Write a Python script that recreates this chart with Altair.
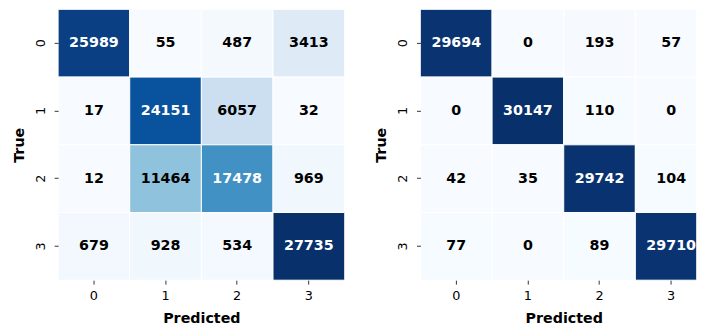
import altair as alt
import numpy as np
import pandas as pd

# Confusion matrices (rows = true class, columns = predicted class)
classes = ["0", "1", "2", "3"]
cm_left = [
    [25989, 55, 487, 3413],
    [17, 24151, 6057, 32],
    [12, 11464, 17478, 969],
    [679, 928, 534, 27735],
]
cm_right = [
    [29694, 0, 193, 57],
    [0, 30147, 110, 0],
    [42, 35, 29742, 104],
    [77, 0, 89, 29710],
]

# matplotlib "Blues" colour stops
blues = ["#f7fbff", "#deebf7", "#c6dbef", "#9ecae1", "#6baed6",
         "#4292c6", "#2171b5", "#08519c", "#08306b"]

FONT = "DejaVu Sans"


def to_frame(cm):
    rows = []
    for i, t in enumerate(classes):
        for j, p in enumerate(classes):
            rows.append({"true": t, "pred": p, "v": cm[i][j]})
    return pd.DataFrame(rows)


def panel(cm, width, x_range=None):
    df = to_frame(cm)
    vals = np.array(cm).ravel()
    stops = list(np.linspace(vals.min(), vals.max(), len(blues)))
    xscale = alt.Scale(domain=classes, paddingInner=0, paddingOuter=0)
    if x_range is not None:
        xscale = alt.Scale(domain=classes, paddingInner=0, paddingOuter=0, range=x_range)
    x = alt.X("pred:O", sort=classes, scale=xscale,
              axis=alt.Axis(title="Predicted", labelAngle=0))
    y = alt.Y("true:O", sort=classes,
              scale=alt.Scale(domain=classes, paddingInner=0, paddingOuter=0),
              axis=alt.Axis(title="True", labelAngle=-90, labelAlign="center",
                            labelBaseline="bottom"))
    base = alt.Chart(df).encode(x=x, y=y)
    rect = base.mark_rect(stroke="white", strokeWidth=1, clip=True).encode(
        color=alt.Color("v:Q", scale=alt.Scale(domain=stops, range=blues), legend=None)
    )
    text = base.transform_joinaggregate(vmax="max(v)").mark_text(
        font=FONT, fontSize=14.5, fontWeight="bold", baseline="middle", align="center"
    ).encode(
        text="v:Q",
        color=alt.condition("datum.v > 0.5 * datum.vmax", alt.value("white"), alt.value("black")),
    )
    return alt.layer(rect, text).properties(width=width, height=275)


left = panel(cm_left, 291)
right = panel(cm_right, 280, x_range=[0, 291])

chart = alt.hconcat(left, right, spacing=77, bounds="flush").resolve_scale(
    color="independent"
).properties(
    padding={"left": 12, "top": 7, "right": 0, "bottom": 0}
).configure_view(stroke=None).configure_axis(
    domain=False, grid=False, tickSize=4, tickColor="#333", tickWidth=1,
    labelFont=FONT, labelFontSize=13, labelColor="black",
    titleFont=FONT, titleFontSize=14.5, titleFontWeight="bold", titleColor="black",
).configure_axisX(labelPadding=6, titlePadding=9).configure_axisY(labelPadding=7, titlePadding=8)

chart.save("out.html", embed_options={"renderer": "svg", "actions": False})
